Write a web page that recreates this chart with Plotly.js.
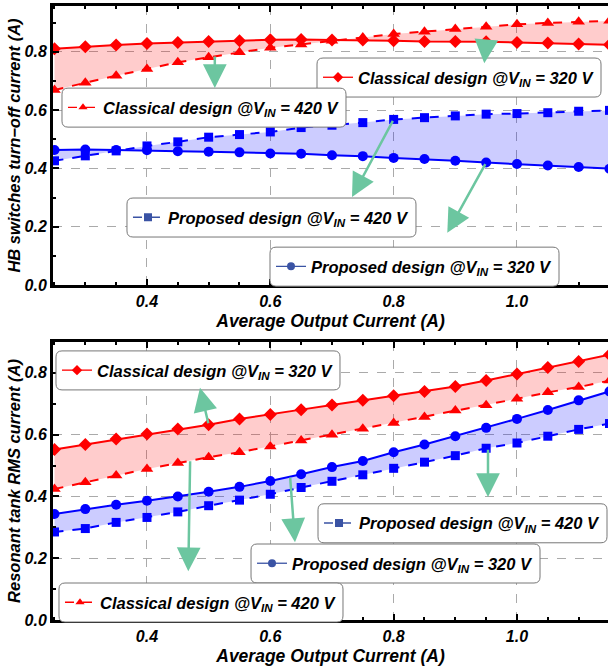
<!DOCTYPE html>
<html>
<head>
<meta charset="utf-8">
<script src="https://cdn.plot.ly/plotly-3.0.1.min.js"></script>
<style>html,body{margin:0;padding:0;background:#fff;}#chart{width:608px;height:667px;}</style>
</head>
<body>
<div id="chart"></div>
<script>
// ---------- data ----------
const current = [0.25,0.30,0.35,0.40,0.45,0.50,0.55,0.60,0.65,0.70,0.75,0.80,0.85,0.90,0.95,1.00,1.05,1.10,1.15];

// Top: HB switches turn-off current (A)
const turnoffClassical320 = [0.810,0.817,0.823,0.828,0.832,0.835,0.838,0.841,0.842,0.840,0.840,0.838,0.835,0.835,0.834,0.832,0.830,0.827,0.824];
const turnoffClassical420 = [0.669,0.694,0.718,0.741,0.764,0.781,0.798,0.814,0.825,0.838,0.849,0.861,0.869,0.878,0.886,0.894,0.899,0.903,0.906];
const turnoffProposed320  = [0.463,0.465,0.463,0.462,0.459,0.457,0.455,0.451,0.450,0.445,0.442,0.436,0.432,0.426,0.420,0.415,0.410,0.405,0.399];
const turnoffProposed420  = [0.426,0.443,0.460,0.477,0.491,0.507,0.516,0.525,0.540,0.548,0.557,0.568,0.574,0.580,0.586,0.588,0.591,0.596,0.599];

// Bottom: Resonant tank RMS current (A)
const rmsClassical320 = [0.552,0.568,0.586,0.602,0.618,0.632,0.651,0.665,0.681,0.696,0.711,0.726,0.740,0.756,0.775,0.796,0.817,0.837,0.859];
const rmsClassical420 = [0.424,0.446,0.468,0.489,0.508,0.527,0.543,0.562,0.581,0.600,0.619,0.638,0.657,0.678,0.695,0.716,0.737,0.754,0.775];
const rmsProposed320  = [0.343,0.359,0.373,0.386,0.400,0.415,0.431,0.450,0.472,0.495,0.515,0.543,0.568,0.595,0.622,0.651,0.680,0.711,0.740];
const rmsProposed420  = [0.285,0.296,0.316,0.332,0.350,0.370,0.388,0.407,0.429,0.449,0.470,0.491,0.511,0.532,0.556,0.573,0.595,0.617,0.636];

const xTicks = [0.4,0.6,0.8,1.0];
const yTicks = [0.0,0.2,0.4,0.6,0.8];
const nameC320 = 'Classical design @V<sub>IN</sub> = 320 V';
const nameC420 = 'Classical design @V<sub>IN</sub> = 420 V';
const nameP420 = 'Proposed design @V<sub>IN</sub> = 420 V';
const nameP320 = 'Proposed design @V<sub>IN</sub> = 320 V';

// ---------- styles ----------
const RED = '#ff0000', BLUE = '#0000ff', SLATE = '#3a53a4';
const FONT = 'Liberation Sans, Arial, sans-serif';

function series(xa, ya, y, color, dash, symbol, size, fill, fillcolor){
  const t = {x: current, y: y, xaxis: xa, yaxis: ya, type: 'scatter', mode: 'lines+markers',
    line: {color: color, width: 2, dash: dash}, marker: {color: color, symbol: symbol, size: size},
    showlegend: false, hoverinfo: 'skip'};
  if (fill) { t.fill = 'tonexty'; t.fillcolor = fillcolor; }
  return t;
}
function legendItem(xa, ya, name, color, dash, symbol, legend){
  return {x: [null], y: [null], xaxis: xa, yaxis: ya, type: 'scatter', mode: 'lines+markers', name: name,
    line: {color: color, width: 1.3, dash: dash}, marker: {color: color, symbol: symbol, size: 8},
    showlegend: true, legend: legend};
}

const LEGENDS = ['legend','legend2','legend3','legend4','legend5','legend6','legend7','legend8'];

const data = [
  series('x','y', turnoffClassical320, RED, 'solid', 'diamond', 10),
  series('x','y', turnoffClassical420, RED, 'dash', 'triangle-up', 11, true, 'rgba(255,0,0,0.2)'),
  series('x','y', turnoffProposed320, BLUE, 'solid', 'circle', 10),
  series('x','y', turnoffProposed420, BLUE, 'dash', 'square', 9, true, 'rgba(0,0,255,0.2)'),
  series('x2','y2', rmsClassical320, RED, 'solid', 'diamond', 10),
  series('x2','y2', rmsClassical420, RED, 'dash', 'triangle-up', 11, true, 'rgba(255,0,0,0.2)'),
  series('x2','y2', rmsProposed320, BLUE, 'solid', 'circle', 10),
  series('x2','y2', rmsProposed420, BLUE, 'dash', 'square', 9, true, 'rgba(0,0,255,0.2)'),
  legendItem('x','y', nameC320, RED, 'solid', 'diamond', 'legend'),
  legendItem('x','y', nameC420, RED, 'dash', 'triangle-up', 'legend2'),
  legendItem('x','y', nameP420, SLATE, 'dash', 'square', 'legend3'),
  legendItem('x','y', nameP320, SLATE, 'solid', 'circle', 'legend4'),
  legendItem('x2','y2', nameC320, RED, 'solid', 'diamond', 'legend5'),
  legendItem('x2','y2', nameP420, SLATE, 'dash', 'square', 'legend6'),
  legendItem('x2','y2', nameP320, SLATE, 'solid', 'circle', 'legend7'),
  legendItem('x2','y2', nameC420, RED, 'dash', 'triangle-up', 'legend8')
];

const tickFont = {family: FONT, size: 16, color: '#000', weight: 'bold', style: 'italic'};
const xTitleFont = {family: FONT, size: 17.5, color: '#000', weight: 'bold', style: 'italic'};
const yTitleFont = {family: FONT, size: 16.5, color: '#000', weight: 'bold', style: 'italic'};

function xAxis(anchor){
  return {anchor: anchor, range: [0.2476, 1.1476], tickvals: xTicks, ticktext: xTicks.map(v=>v.toFixed(1)),
    ticks: 'inside', ticklen: 6, tickwidth: 1.5, tickcolor: '#000',
    minor: {dtick: 0.05, tick0: 0, ticks: 'inside', ticklen: 3, tickcolor: '#000', showgrid: false},
    showline: true, linewidth: 3, linecolor: '#000', mirror: 'allticks',
    showgrid: true, gridcolor: '#aaaaaa', griddash: 'dash', gridwidth: 1,
    tickfont: tickFont, zeroline: false, automargin: false,
    title: {text: 'Average Output Current (A)', font: xTitleFont, standoff: 6}};
}
function yAxis(anchor, domain, range, title){
  return {anchor: anchor, domain: domain, range: range, tickvals: yTicks, ticktext: yTicks.map(v=>v.toFixed(1)),
    ticks: 'inside', ticklen: 6, tickwidth: 1.5, tickcolor: '#000',
    minor: {dtick: 0.1, tick0: 0, ticks: 'inside', ticklen: 3, tickcolor: '#000', showgrid: false},
    showline: true, linewidth: 3, linecolor: '#000', mirror: false,
    showgrid: true, gridcolor: '#aaaaaa', griddash: 'dash', gridwidth: 1,
    tickfont: tickFont, zeroline: false, automargin: false,
    title: {text: title, font: yTitleFont, standoff: 0}};
}

function legendBox(x, y){
  return {x: x, y: y, xanchor: 'left', yanchor: 'top', bgcolor: 'rgba(0,0,0,0)', borderwidth: 0,
    font: {family: FONT, size: 16.5, color: '#000', weight: 'bold', style: 'italic'}, itemwidth: 30};
}

const ARROW = '#6cc6a0';
function arrow(xref, yref, x, y, ax, ay){
  return {xref: xref, yref: yref, axref: xref, ayref: yref, x: x, y: y, ax: ax, ay: ay, text: '',
    showarrow: true, arrowhead: 2, arrowsize: 1.9, arrowwidth: 2.5, arrowcolor: ARROW};
}

const M = {l: 53, r: 0, t: 6, b: 47};
const layout = {
  width: 608, height: 667,
  margin: {l: M.l, r: M.r, t: M.t, b: M.b, autoexpand: false},
  paper_bgcolor: '#ffffff', plot_bgcolor: '#ffffff',
  showlegend: true,
  xaxis: xAxis('y'),
  yaxis: yAxis('x', [0.5456, 1], [0, 0.957], 'HB switches turn\u2212off current (A)'),
  xaxis2: xAxis('y2'),
  yaxis2: yAxis('x2', [0, 0.4528], [0, 0.9], 'Resonant tank RMS current (A)'),
  legend: legendBox(0.4775, 0.912),
  legend2: legendBox(0.018, 0.863),
  legend3: legendBox(0.1351, 0.684),
  legend4: legendBox(0.3928, 0.604),
  legend5: legendBox(0.0072, 0.435),
  legend6: legendBox(0.4793, 0.186),
  legend7: legendBox(0.3586, 0.1205),
  legend8: legendBox(0.0126, 0.057),
  annotations: [
    arrow('x','y', 0.51, 0.676, 0.51, 0.789),
    arrow('x','y', 0.947, 0.761, 0.950, 0.834),
    arrow('x','y', 0.7325, 0.302, 0.80, 0.568),
    arrow('x','y', 0.887, 0.179, 0.95, 0.420),
    arrow('x2','y2', 0.486, 0.752, 0.50, 0.632),
    arrow('x2','y2', 0.467, 0.158, 0.47, 0.519),
    arrow('x2','y2', 0.64, 0.252, 0.632, 0.466),
    arrow('x2','y2', 0.953, 0.398, 0.953, 0.556)
  ]
};

const gd = document.getElementById('chart');
Plotly.newPlot(gd, data, layout, {displayModeBar: false, responsive: false}).then(function(){
  // rounded white boxes behind each legend, sized from the rendered legends
  const W = 608 - M.l - M.r, H = 667 - M.t - M.b;
  const host = gd.getBoundingClientRect();
  const shapes = [];
  const seen = new Set();
  const groups = [];
  LEGENDS.forEach(function(id){
    gd.querySelectorAll('g.' + id).forEach(function(g){ if (!seen.has(g)) { seen.add(g); groups.push(g); } });
  });
  groups.forEach(function(g){
    const bg = g.querySelector('rect.bg') || g;
    const r = bg.getBoundingClientRect();
    if (!r.width) return;
    const padX = 1, padY = 2, rad = 6;
    const left = r.left - host.left - padX, right = r.right - host.left + padX;
    const top = r.top - host.top - padY, bottom = r.bottom - host.top + padY;
    const px = v => ((v - M.l) / W).toFixed(5);
    const py = v => ((667 - M.b - v) / H).toFixed(5);
    const path = 'M' + px(left + rad) + ',' + py(top) +
      ' L' + px(right - rad) + ',' + py(top) +
      ' Q' + px(right) + ',' + py(top) + ' ' + px(right) + ',' + py(top + rad) +
      ' L' + px(right) + ',' + py(bottom - rad) +
      ' Q' + px(right) + ',' + py(bottom) + ' ' + px(right - rad) + ',' + py(bottom) +
      ' L' + px(left + rad) + ',' + py(bottom) +
      ' Q' + px(left) + ',' + py(bottom) + ' ' + px(left) + ',' + py(bottom - rad) +
      ' L' + px(left) + ',' + py(top + rad) +
      ' Q' + px(left) + ',' + py(top) + ' ' + px(left + rad) + ',' + py(top) + ' Z';
    shapes.push({type: 'path', xref: 'paper', yref: 'paper', path: path, layer: 'above',
      fillcolor: '#ffffff', line: {color: '#777777', width: 1}});
  });
  return Plotly.relayout(gd, {shapes: shapes});
});
</script>
</body>
</html>
